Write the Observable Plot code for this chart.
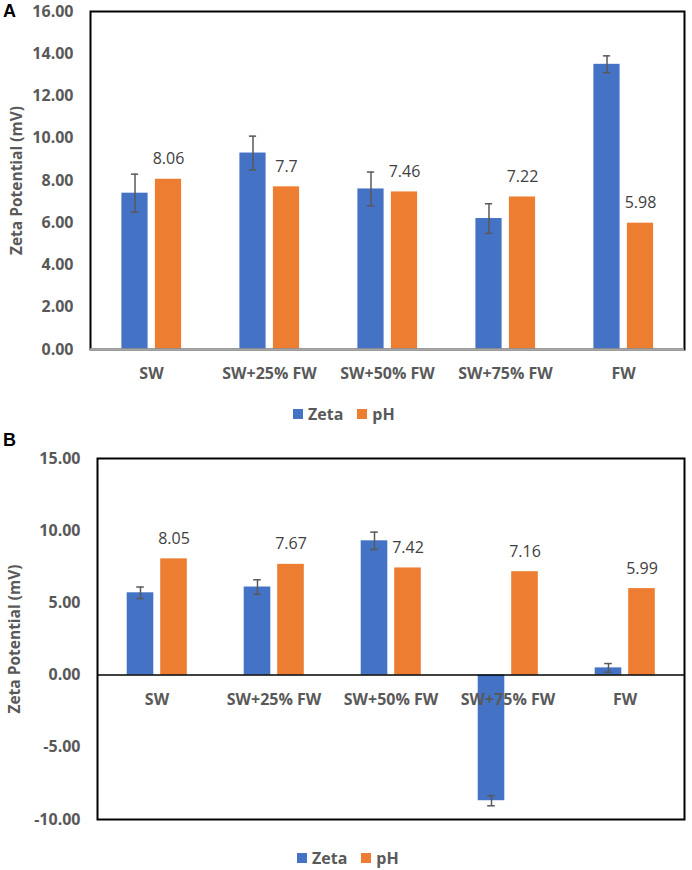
<!DOCTYPE html>
<html>
<head>
<meta charset="utf-8">
<script src="https://cdn.jsdelivr.net/npm/d3@7"></script>
<script src="https://cdn.jsdelivr.net/npm/@observablehq/plot@0.6"></script>
<style>
  html, body { margin: 0; padding: 0; background: #fff; }
  #root { position: relative; width: 692px; height: 870px; font-family: "Open Sans", sans-serif; }
  .panel { position: absolute; left: 0; }
  .tag { position: absolute; font-family: "Liberation Sans", Arial, sans-serif; font-weight: bold; font-size: 18px; color: #000; }
  .legend { position: absolute; display: flex; align-items: center; font-weight: bold; font-size: 16px; color: #595959; }
  .legend .sw { width: 10px; height: 10px; display: inline-block; margin-right: 5px; }
  .legend .item { display: flex; align-items: center; margin-right: 14px; }
</style>
</head>
<body>
<div id="root"></div>
<script>
const categories = ["SW", "SW+25% FW", "SW+50% FW", "SW+75% FW", "FW"];
const seriesNames = ["Zeta", "pH"];
const seriesColors = ["#4472C4", "#ED7D31"];

// Panel A
const zetaA = [7.4, 9.3, 7.6, 6.2, 13.5];
const errA = [0.9, 0.8, 0.8, 0.7, 0.4];
const pHA = [8.06, 7.7, 7.46, 7.22, 5.98];
const pHLabelsA = ["8.06", "7.7", "7.46", "7.22", "5.98"];
const yTicksA = [0, 2, 4, 6, 8, 10, 12, 14, 16];

// Panel B
const zetaB = [5.7, 6.1, 9.3, -8.7, 0.5];
const errB = [0.4, 0.5, 0.6, 0.35, 0.3];
const pHB = [8.05, 7.67, 7.42, 7.16, 5.99];
const pHLabelsB = ["8.05", "7.67", "7.42", "7.16", "5.99"];
const yTicksB = [-10, -5, 0, 5, 10, 15];

const axisTitle = "Zeta Potential (mV)";

function makePanel({zeta, err, pH, pHLabels, yTicks, domain, height, mt, mb, ml, mr, titleDx, zeroColor, zeroWidth, labelDy}) {
  const width = 692;
  const data = categories.map((c, i) => ({cat: c, zeta: zeta[i], lo: zeta[i] - err[i], hi: zeta[i] + err[i], pH: pH[i], label: pHLabels[i]}));
  const bw = (width - ml - mr) / categories.length;
  return Plot.plot({
    width, height,
    marginTop: mt, marginBottom: mb, marginLeft: ml, marginRight: mr,
    style: {fontFamily: "Open Sans, sans-serif", fontSize: "15px", background: "white", overflow: "visible"},
    x: {type: "band", domain: categories, padding: 0, axis: null},
    y: {domain, ticks: yTicks, grid: false, axis: null},
    marks: [
      Plot.barY(data, {x: "cat", y: "zeta", fill: seriesColors[0], insetLeft: bw / 2 - 30, insetRight: bw / 2 + 3}),
      Plot.barY(data, {x: "cat", y: "pH", fill: seriesColors[1], insetLeft: bw / 2 + 3.5, insetRight: bw / 2 - 30.5}),
      Plot.ruleX(data, {x: "cat", y1: "lo", y2: "hi", dx: -16.5, stroke: "#595959", strokeWidth: 1.5}),
      Plot.tickY(data, {x: "cat", y: "hi", insetLeft: bw / 2 - 20.5, insetRight: bw / 2 + 12.5, stroke: "#595959", strokeWidth: 1.5}),
      Plot.tickY(data, {x: "cat", y: "lo", insetLeft: bw / 2 - 20.5, insetRight: bw / 2 + 12.5, stroke: "#595959", strokeWidth: 1.5}),
      Plot.text(data, {x: "cat", y: "pH", text: "label", dx: 17, dy: -20, fill: "#404040", fontSize: 16, lineAnchor: "middle"}),
      Plot.frame({stroke: "#000", strokeWidth: 2}),
      Plot.ruleY([0], {stroke: zeroColor, strokeWidth: zeroWidth}),
      Plot.text(data, {x: "cat", y: () => 0, text: "cat", dy: labelDy, fill: "#595959", fontWeight: "bold", fontSize: 16, lineAnchor: "middle"}),
      Plot.axisY({ticks: yTicks, tickSize: 0, tickPadding: 17, tickFormat: d => d.toFixed(2), fill: "#595959", fontWeight: "bold", fontSize: 16, label: null}),
      Plot.text([axisTitle], {frameAnchor: "left", dx: titleDx, rotate: -90, fill: "#595959", fontWeight: "bold", fontSize: 15.5, textAnchor: "middle", lineAnchor: "middle"})
    ]
  });
}

function legend(top, left) {
  const d = document.createElement("div");
  d.className = "legend";
  d.style.top = top + "px";
  d.style.left = left + "px";
  seriesNames.forEach((n, i) => {
    const it = document.createElement("span");
    it.className = "item";
    const sw = document.createElement("span");
    sw.className = "sw";
    sw.style.background = seriesColors[i];
    it.appendChild(sw);
    it.appendChild(document.createTextNode(n));
    d.appendChild(it);
  });
  return d;
}

const root = document.getElementById("root");

const A = makePanel({zeta: zetaA, err: errA, pH: pHA, pHLabels: pHLabelsA, yTicks: yTicksA, domain: [0, 16],
  height: 395, mt: 11, mb: 46, ml: 90, mr: 8, titleDx: -73, zeroColor: "#a6a6a6", zeroWidth: 2.5, labelDy: 24});
A.classList.add("panel"); A.style.top = "0px";
root.appendChild(A);

const B = makePanel({zeta: zetaB, err: errB, pH: pHB, pHLabels: pHLabelsB, yTicks: yTicksB, domain: [-10, 15],
  height: 400, mt: 28, mb: 11, ml: 97, mr: 8, titleDx: -82, zeroColor: "#000", zeroWidth: 1.5, labelDy: 25});
B.classList.add("panel"); B.style.top = "430px";
root.appendChild(B);

const tA = document.createElement("div"); tA.className = "tag"; tA.textContent = "A"; tA.style.left = "3px"; tA.style.top = "1px"; root.appendChild(tA);
const tB = document.createElement("div"); tB.className = "tag"; tB.textContent = "B"; tB.style.left = "3px"; tB.style.top = "430px"; root.appendChild(tB);

root.appendChild(legend(403, 293));
root.appendChild(legend(847, 297));
</script>
</body>
</html>
